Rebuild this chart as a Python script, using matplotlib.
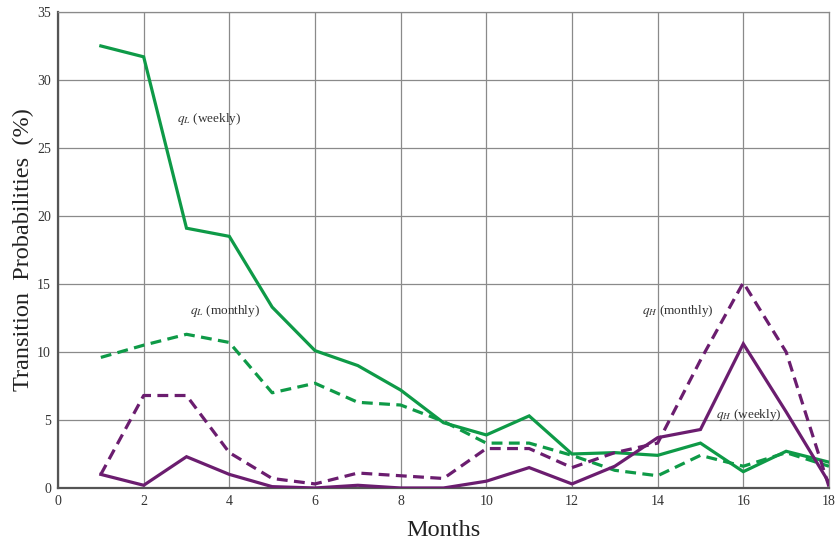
import matplotlib
matplotlib.use("Agg")
import matplotlib.pyplot as plt

months = list(range(1, 19))
qL_weekly = [32.5, 31.7, 19.1, 18.5, 13.3, 10.1, 9.0, 7.2, 4.8, 3.9, 5.3, 2.5, 2.6, 2.4, 3.3, 1.2, 2.7, 1.9]
qL_monthly = [9.6, 10.5, 11.3, 10.7, 7.0, 7.7, 6.3, 6.1, 4.9, 3.3, 3.3, 2.4, 1.3, 0.9, 2.4, 1.6, 2.6, 1.6]
qH_weekly = [1.0, 0.2, 2.3, 1.0, 0.1, 0.0, 0.2, 0.0, 0.0, 0.5, 1.5, 0.3, 1.6, 3.7, 4.3, 10.6, 5.6, 0.4]
qH_monthly = [1.0, 6.8, 6.8, 2.6, 0.7, 0.3, 1.1, 0.9, 0.7, 2.9, 2.9, 1.5, 2.6, 3.3, 9.4, 15.1, 10.0, 0.1]

x_ticks = [0, 2, 4, 6, 8, 10, 12, 14, 16, 18]
y_ticks = [0, 5, 10, 15, 20, 25, 30, 35]

GREEN = "#0e9a47"
PURPLE = "#6b1d6f"

plt.rcParams["font.family"] = ["Liberation Serif", "DejaVu Serif"]
plt.rcParams["mathtext.fontset"] = "stix"

fig = plt.figure(figsize=(8.37, 5.43), dpi=100)
ax = fig.add_axes([0.0693, 0.1013, 0.9211, 0.8767])

dash = (0, (3.4, 2.0))
lw = 2.3
ax.plot(months, qL_weekly, color=GREEN, lw=lw, solid_joinstyle="miter", zorder=3)
ax.plot(months, qL_monthly, color=GREEN, lw=lw, linestyle=dash, zorder=3)
ax.plot(months, qH_weekly, color=PURPLE, lw=lw, solid_joinstyle="miter", zorder=3)
ax.plot(months, qH_monthly, color=PURPLE, lw=lw, linestyle=dash, zorder=3)

ax.set_xlim(0, 18)
ax.set_ylim(0, 35)
ax.set_xticks(x_ticks)
ax.set_yticks(y_ticks)
ax.tick_params(axis="both", length=0, labelsize=10, colors="#333333", pad=5)
ax.grid(True, color="#8a8a8a", lw=0.9)
ax.set_axisbelow(True)

for side in ("top", "right"):
    ax.spines[side].set_color("#8a8a8a")
    ax.spines[side].set_linewidth(0.9)
for side in ("left", "bottom"):
    ax.spines[side].set_color("#555555")
    ax.spines[side].set_linewidth(1.6)

ax.set_xlabel("Months", fontsize=17.5, color="#222222", labelpad=9)
ax.set_ylabel("Transition  Probabilities  (%)", fontsize=17.5, color="#222222", labelpad=2)

lbl = dict(fontsize=9.5, color="#333333", va="center", ha="left")
ax.text(2.78, 27.1, r"$q_L$ (weekly)", **lbl)
ax.text(3.08, 13.0, r"$q_L$ (monthly)", **lbl)
ax.text(13.64, 13.0, r"$q_H$ (monthly)", **lbl)
ax.text(15.36, 5.4, r"$q_H$ (weekly)", **lbl)

fig.savefig("out.png", dpi=100)
